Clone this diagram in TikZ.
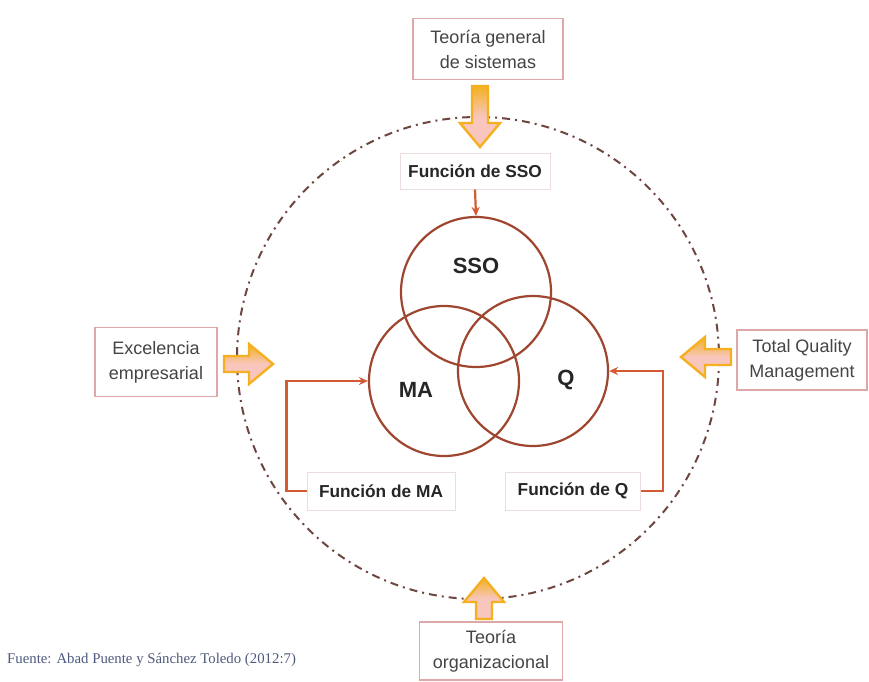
\documentclass[tikz,border=0pt]{standalone}
\usepackage{fontspec}
\setmainfont{Liberation Sans}
\newfontfamily\capfont{Liberation Serif}
\usetikzlibrary{arrows.meta}

\definecolor{ringc}{HTML}{9E4630}
\definecolor{boundc}{HTML}{6E4640}
\definecolor{linkc}{HTML}{D45A34}
\definecolor{framec}{HTML}{DDA8A8}
\definecolor{softframe}{HTML}{ECDCDC}
\definecolor{arrowfill}{HTML}{F8C6BC}
\definecolor{arrowedge}{HTML}{F4B020}
\definecolor{labelc}{HTML}{444444}
\definecolor{capc}{HTML}{4E5A7E}

\begin{document}
\begin{tikzpicture}[x=1pt,y=-1pt,
  ring/.style={draw=ringc, line width=2.2pt, circle, minimum size=150pt, inner sep=0pt},
  srcbox/.style={draw=framec, line width=1.2pt, fill=white, text=labelc, align=center,
    font=\fontsize{18}{25}\selectfont, inner sep=2pt},
  fnbox/.style={draw=softframe, line width=1pt, fill=white, text=black!85,
    font=\bfseries\fontsize{17.3}{20}\selectfont, inner sep=2pt},
  link/.style={draw=linkc, line width=2.2pt, -{Stealth[length=9pt,width=8pt]}},
  setlabel/.style={font=\bfseries\fontsize{22}{26}\selectfont, text=black!85},
  % block arrow pointing along +y of its own frame; #1 = total length
  feedarrow/.pic={
    \filldraw[draw=arrowedge, line width=2.4pt, line join=miter,
      top color=arrowedge, bottom color=arrowfill, middle color=arrowfill]
      (-8,0) -- (-8,#1-24) -- (-20,#1-24) -- (0,#1) -- (20,#1-24) -- (8,#1-24) -- (8,0) -- cycle;
  }
]
\useasboundingbox (0,0) rectangle (869,681);
\fill[white] (0,0) rectangle (869,681);

% dash-dot boundary
\draw[boundc, line width=2pt, dash pattern=on 8pt off 5pt on 2pt off 5pt]
  (478,358) circle[radius=241];

% the three overlapping sets
\node[ring] (sso) at (476,292) {};
\node[ring] (ma)  at (444,381) {};
\node[ring] (q)   at (533,371) {};
\node[setlabel] (ssolab) at (476,266) {SSO};
\node[setlabel] (malab)  at (416,390) {MA};
\node[setlabel] (qlab)   at (566,380) {Q};

% function boxes and their links
\node[fnbox, minimum width=150pt, minimum height=36pt] (fsso) at (475,171) {Función de SSO};
\node[fnbox, minimum width=148pt, minimum height=38pt] (fma)  at (381,491) {Función de MA};
\node[fnbox, minimum width=135pt, minimum height=38pt] (fq)   at (573,491) {Función de Q};

\draw[link] (fsso.south) -- (sso.north);
\draw[link] (fma.west) -- ++(-20,0) |- (ma.west);
\draw[link] (fq.east) -- ++(22,0) |- (q.east);

% external sources
\node[srcbox, minimum width=150pt, minimum height=61pt] (tgs)  at (488,49)  {Teoría general\\de sistemas};
\node[srcbox, minimum width=122pt, minimum height=69pt] (exc)  at (156,362) {Excelencia\\empresarial};
\node[srcbox, minimum width=130pt, minimum height=60pt] (tqm)  at (802,360) {Total Quality\\Management};
\node[srcbox, minimum width=143pt, minimum height=58pt] (torg) at (491,651) {Teoría\\organizacional};

% block arrows feeding the system
\pic at (480,86) {feedarrow=61};
\pic[rotate=90] at (224,364) {feedarrow=49};
\pic[rotate=-90] at (731,357) {feedarrow=50};
\pic[rotate=180] at (484,619) {feedarrow=41};

% source note
\node[anchor=west, font=\capfont\fontsize{14.8}{17}\selectfont, text=capc, inner sep=0pt]
  (note) at (7,660) {Fuente: Abad Puente y Sánchez Toledo (2012:7)};
\end{tikzpicture}
\end{document}
